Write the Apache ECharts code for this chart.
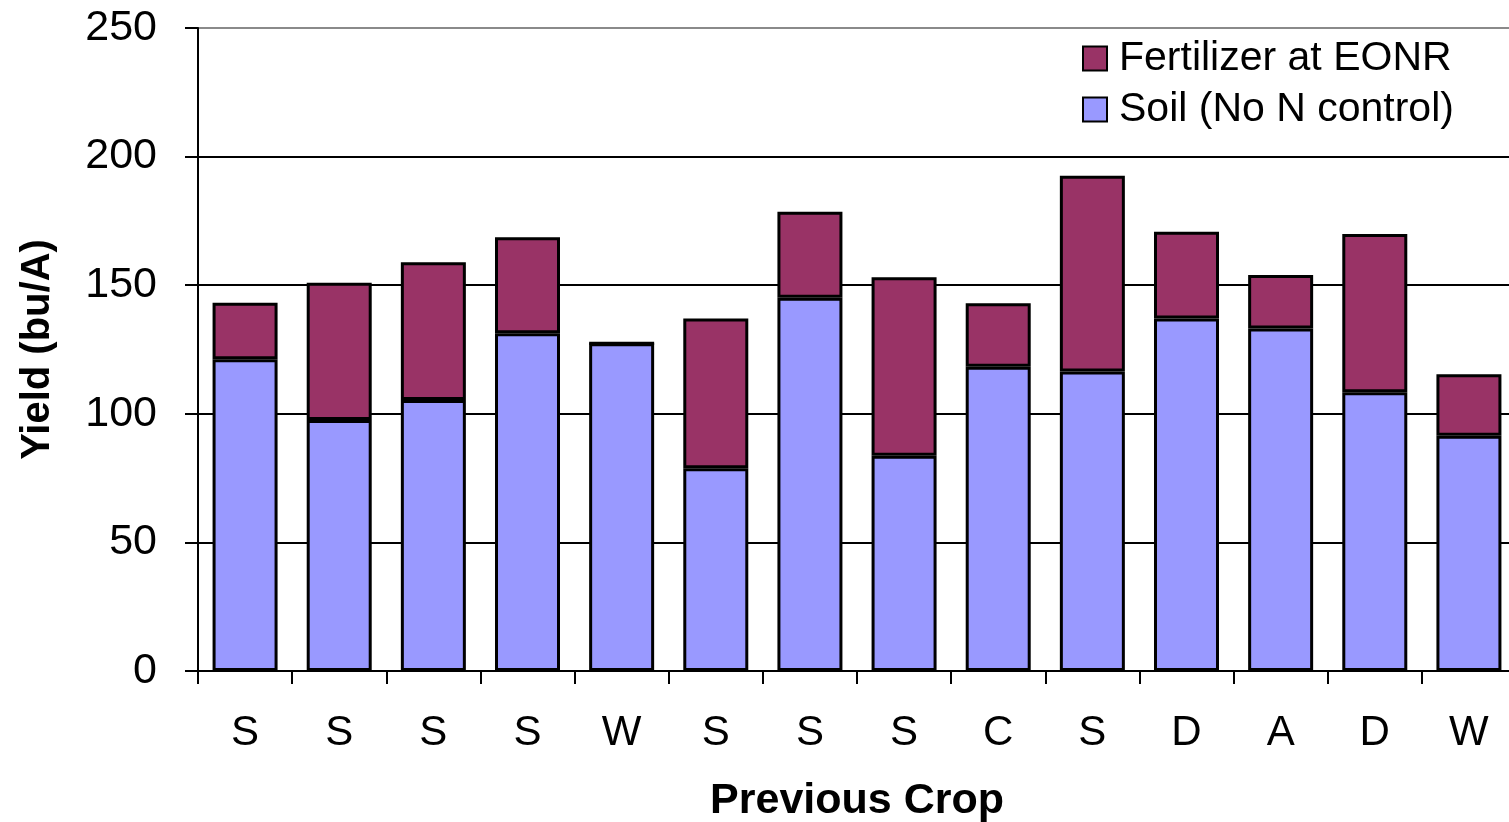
<!DOCTYPE html>
<html>
<head>
<meta charset="utf-8">
<script src="https://cdn.jsdelivr.net/npm/echarts@6/dist/echarts.min.js"></script>
<style>
  html, body { margin: 0; padding: 0; background: #fff; }
  #chart { width: 1509px; height: 822px; }
</style>
</head>
<body>
<div id="chart"></div>
<script>
// Previous crop for each site
const crops = ['S', 'S', 'S', 'S', 'W', 'S', 'S', 'S', 'C', 'S', 'D', 'A', 'D', 'W'];
// Yield with no N applied (bu/A)
const soilYield = [121.2, 97.6, 105.4, 131.3, 127.4, 78.8, 145.1, 83.7, 118.3, 116.4, 137.1, 133.2, 108.4, 91.5];
// Total yield at the economic optimum N rate (bu/A)
const eonrYield = [143.2, 151.0, 158.9, 168.6, 127.4, 137.1, 178.6, 153.1, 143.0, 192.6, 170.8, 154.0, 169.9, 115.4];
const yTicks = [0, 50, 100, 150, 200, 250];

// Yield gained from fertilizer = total at EONR minus the unfertilized yield
const fertGain = eonrYield.map((v, i) => +(v - soilYield[i]).toFixed(1));

const FONT = 'Liberation Sans, Arial, sans-serif';
const chart = echarts.init(document.getElementById('chart'), null, { renderer: 'canvas' });

chart.setOption({
  backgroundColor: '#ffffff',
  animation: false,
  textStyle: { fontFamily: FONT, color: '#000' },
  // plot area runs a little past the right edge of the canvas
  grid: { left: 198, top: 28, width: 1318, height: 643, containLabel: false, outerBoundsMode: 'none' },
  legend: {
    orient: 'vertical',
    left: 1020,
    top: 29,
    width: 489,
    padding: [9, 40, 25, 62],
    backgroundColor: '#ffffff',
    icon: 'rect',
    itemWidth: 24,
    itemHeight: 24,
    itemGap: 10,
    data: ['Fertilizer at EONR', 'Soil (No N control)'],
    textStyle: { fontFamily: FONT, fontSize: 41, color: '#000', padding: [0, 0, 0, 7] }
  },
  xAxis: {
    type: 'category',
    data: crops,
    name: 'Previous Crop',
    nameLocation: 'middle',
    nameGap: 109,
    nameTextStyle: { fontFamily: FONT, fontSize: 43, fontWeight: 'bold', color: '#000' },
    axisLine: { show: true, lineStyle: { color: '#000', width: 2 } },
    axisTick: { show: true, length: 13, lineStyle: { color: '#000', width: 2 } },
    axisLabel: { fontFamily: FONT, fontSize: 42, color: '#000', margin: 41 }
  },
  yAxis: {
    type: 'value',
    min: 0,
    max: 250,
    interval: 50,
    name: 'Yield (bu/A)',
    nameLocation: 'middle',
    nameGap: 140,
    nameTextStyle: { fontFamily: FONT, fontSize: 40, fontWeight: 'bold', color: '#000' },
    axisLine: { show: true, lineStyle: { color: '#000', width: 2 } },
    axisTick: { show: true, length: 13, lineStyle: { color: '#000', width: 2 } },
    axisLabel: {
      fontFamily: FONT, fontSize: 43, color: '#000', margin: 41,
      formatter: v => (yTicks.indexOf(v) >= 0 ? String(v) : '')
    },
    splitLine: {
      show: true,
      lineStyle: { color: ['#000', '#000', '#000', '#000', '#000', '#8a8a8a'], width: 2 }
    }
  },
  series: [
    {
      name: 'Soil (No N control)',
      type: 'bar',
      stack: 'yield',
      data: soilYield,
      barWidth: 65,
      itemStyle: { color: '#9999FF', borderColor: '#000', borderWidth: 3 }
    },
    {
      name: 'Fertilizer at EONR',
      type: 'bar',
      stack: 'yield',
      data: fertGain,
      barWidth: 65,
      itemStyle: { color: '#993366', borderColor: '#000', borderWidth: 3 }
    }
  ]
});
</script>
</body>
</html>
